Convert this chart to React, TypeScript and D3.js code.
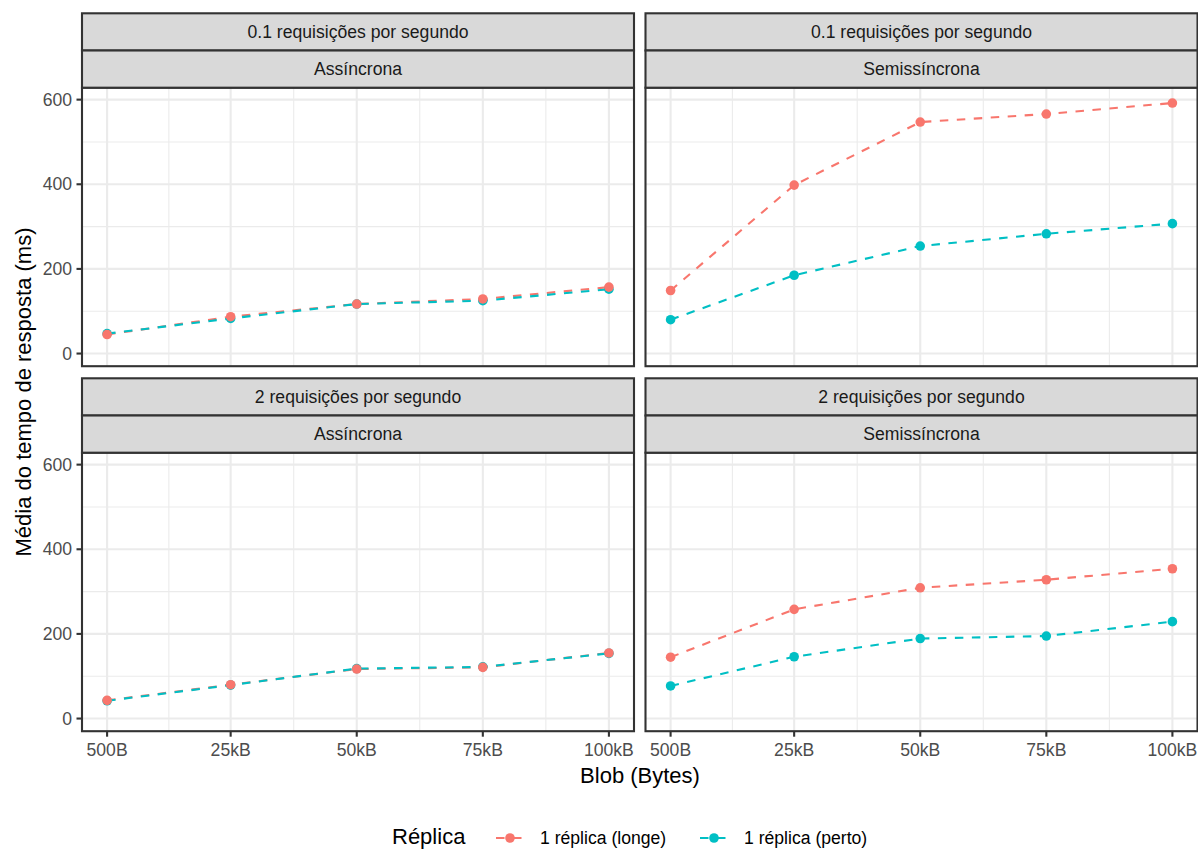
import * as d3 from 'd3';

// blob sizes on the x axis (kB) and their labels
const sizeKB = [0.5, 25, 50, 75, 100];
const sizeLabels = ['500B', '25kB', '50kB', '75kB', '100kB'];

const rates = ['0.1 requisições por segundo', '2 requisições por segundo'];
const modes = ['Assíncrona', 'Semissíncrona'];

// mean response time (ms), one array per facet and replica
const longe01Async = [45, 87, 117, 129, 157];
const perto01Async = [47, 83, 117, 125, 152];
const longe01Semi = [149, 398, 547, 566, 592];
const perto01Semi = [80, 185, 254, 283, 307];
const longe2Async = [43, 80, 117, 121, 155];
const perto2Async = [42, 79, 118, 122, 154];
const longe2Semi = [145, 258, 309, 328, 354];
const perto2Semi = [77, 146, 189, 195, 229];

const seriesNames = ['1 réplica (longe)', '1 réplica (perto)'];
const seriesColors = ['#F8766D', '#00BFC4'];

const yMajor = [0, 200, 400, 600];
const yMinor = [100, 300, 500];
const xMinor = [12.75, 37.5, 62.5, 87.5];

// facets[row][col] = [longe, perto]
const facets = [
  [[longe01Async, perto01Async], [longe01Semi, perto01Semi]],
  [[longe2Async, perto2Async], [longe2Semi, perto2Semi]],
];

const W = 1198;
const H = 849;
const FONT = '"Liberation Sans", Arial, Helvetica, sans-serif';
const colX = [82, 645.5];
const panelW = 552;
const rowTop = [13.3, 378.3];
const stripH = 37.2;
const panelH = 278.5;

export default function App() {
  const x = d3.scaleLinear().domain([-4.475, 104.975]);
  const y = d3.scaleLinear().domain([-29.9, 628.2]);

  const panels = [];
  facets.forEach((row, ri) => {
    row.forEach((pair, ci) => {
      const px = colX[ci];
      const st = rowTop[ri];
      const pt = st + stripH * 2;
      const xs = x.copy().range([px, px + panelW]);
      const ys = y.copy().range([pt + panelH, pt]);
      const line = d3
        .line<number>()
        .x((_, i) => xs(sizeKB[i]))
        .y((d) => ys(d));
      panels.push(
        <g key={`${ri}-${ci}`}>
          <rect x={px} y={pt} width={panelW} height={panelH} fill="#fff" />
          {yMinor.map((v) => (
            <line key={`ym${v}`} x1={px} x2={px + panelW} y1={ys(v)} y2={ys(v)} stroke="#EBEBEB" strokeWidth={1.1} />
          ))}
          {xMinor.map((v) => (
            <line key={`xm${v}`} x1={xs(v)} x2={xs(v)} y1={pt} y2={pt + panelH} stroke="#EBEBEB" strokeWidth={1.1} />
          ))}
          {yMajor.map((v) => (
            <line key={`yM${v}`} x1={px} x2={px + panelW} y1={ys(v)} y2={ys(v)} stroke="#EBEBEB" strokeWidth={2.1} />
          ))}
          {sizeKB.map((v) => (
            <line key={`xM${v}`} x1={xs(v)} x2={xs(v)} y1={pt} y2={pt + panelH} stroke="#EBEBEB" strokeWidth={2.1} />
          ))}
          {pair.map((vals, si) => (
            <path key={`l${si}`} d={line(vals) ?? ''} fill="none" stroke={seriesColors[si]} strokeWidth={2.1} strokeDasharray="8.5,8.5" />
          ))}
          {[1, 0].map((si) =>
            pair[si].map((v, i) => (
              <circle key={`p${si}-${i}`} cx={xs(sizeKB[i])} cy={ys(v)} r={4.8} fill={seriesColors[si]} />
            ))
          )}
          <rect x={px} y={pt} width={panelW} height={panelH} fill="none" stroke="#333333" strokeWidth={2.1} />
          {/* strips */}
          <rect x={px} y={st} width={panelW} height={stripH} fill="#D9D9D9" stroke="#333333" strokeWidth={2.1} />
          <rect x={px} y={st + stripH} width={panelW} height={stripH} fill="#D9D9D9" stroke="#333333" strokeWidth={2.1} />
          <text x={px + panelW / 2} y={st + stripH / 2} dy="0.35em" textAnchor="middle" fontSize={17.6} fill="#1A1A1A">
            {rates[ri]}
          </text>
          <text x={px + panelW / 2} y={st + stripH * 1.5} dy="0.35em" textAnchor="middle" fontSize={17.6} fill="#1A1A1A">
            {modes[ci]}
          </text>
          {/* y axis on left column */}
          {ci === 0 &&
            yMajor.map((v) => (
              <g key={`yt${v}`}>
                <line x1={px - 5.5} x2={px} y1={ys(v)} y2={ys(v)} stroke="#333333" strokeWidth={2.1} />
                <text x={px - 10} y={ys(v)} dy="0.35em" textAnchor="end" fontSize={17.6} fill="#4D4D4D">
                  {v}
                </text>
              </g>
            ))}
          {/* x axis on bottom row */}
          {ri === 1 &&
            sizeKB.map((v, i) => (
              <g key={`xt${v}`}>
                <line x1={xs(v)} x2={xs(v)} y1={pt + panelH} y2={pt + panelH + 5.5} stroke="#333333" strokeWidth={2.1} />
                <text x={xs(v)} y={pt + panelH + 19} dy="0.35em" textAnchor="middle" fontSize={17.6} fill="#4D4D4D">
                  {sizeLabels[i]}
                </text>
              </g>
            ))}
        </g>
      );
    });
  });

  const legendY = 838;
  const keyCenters = [510, 714];
  const labelX = [540, 744];

  return (
    <svg width={W} height={H} style={{ position: 'absolute', left: 0, top: 0, fontFamily: FONT }}>
      <rect width={W} height={H} fill="#fff" />
      {panels}
      <text x={640} y={775} dy="0.35em" textAnchor="middle" fontSize={22} fill="#000">
        Blob (Bytes)
      </text>
      <text transform={`translate(23,392) rotate(-90)`} dy="0.35em" textAnchor="middle" fontSize={22} fill="#000">
        Média do tempo de resposta (ms)
      </text>
      <text x={392} y={legendY - 1} dy="0.32em" fontSize={22} fill="#000">
        Réplica
      </text>
      {seriesNames.map((name, i) => (
        <g key={name}>
          <line x1={keyCenters[i] - 14} x2={keyCenters[i] + 14} y1={legendY} y2={legendY} stroke={seriesColors[i]} strokeWidth={2.1} strokeDasharray="8.5,8.5" />
          <circle cx={keyCenters[i]} cy={legendY} r={4.8} fill={seriesColors[i]} />
          <text x={labelX[i]} y={legendY} dy="0.35em" fontSize={17.6} fill="#000">
            {name}
          </text>
        </g>
      ))}
    </svg>
  );
}
